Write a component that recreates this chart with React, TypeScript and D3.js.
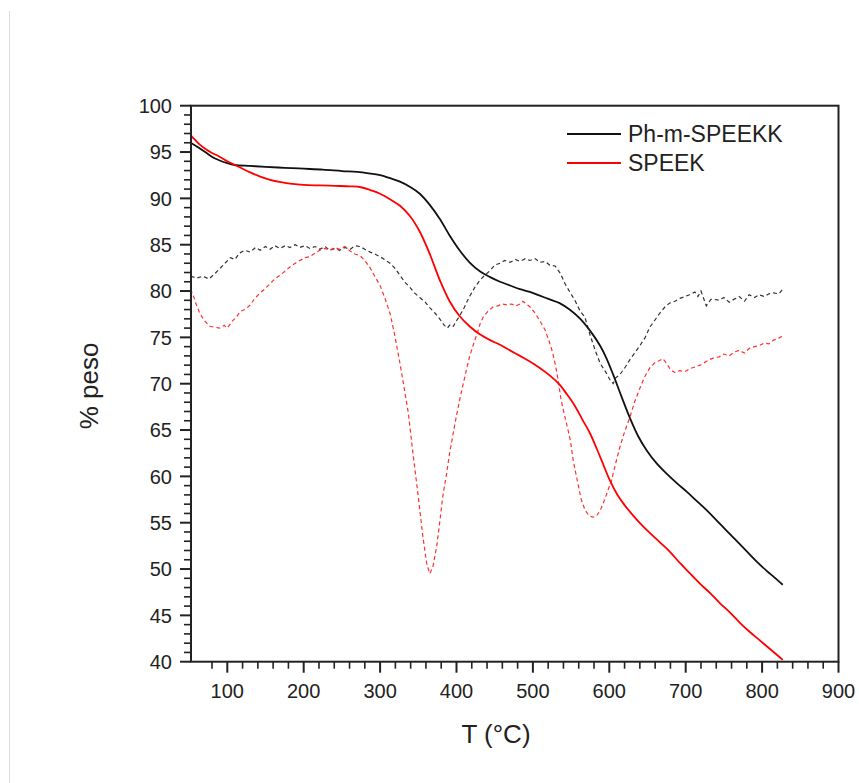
import React from "react";
import * as d3 from "d3";

// TGA curves (T °C, weight %)
const phmT = [52, 60, 71, 84, 100, 110, 130, 150, 175, 200, 225, 250, 270, 285, 300, 312, 326, 340, 352, 365, 378, 391, 404, 417, 431, 444, 457, 470, 483, 496, 509, 522, 535, 548, 562, 575, 588, 596, 605, 616, 627, 638, 649, 662, 675, 688, 702, 715, 728, 741, 754, 767, 780, 793, 806, 816, 827];
const phmW = [96.0, 95.6, 95.0, 94.3, 93.8, 93.6, 93.5, 93.4, 93.3, 93.2, 93.1, 92.95, 92.85, 92.7, 92.5, 92.2, 91.8, 91.2, 90.5, 89.3, 87.8, 86.0, 84.4, 83.1, 82.1, 81.5, 81.0, 80.6, 80.2, 79.9, 79.5, 79.1, 78.7, 78.0, 77.0, 75.7, 74.1, 72.8, 71.0, 68.6, 66.3, 64.3, 62.8, 61.4, 60.3, 59.3, 58.3, 57.3, 56.3, 55.2, 54.1, 53.0, 51.9, 50.8, 49.8, 49.1, 48.3];

const speekT = [52, 58, 64, 72, 80, 90, 100, 110, 120, 130, 143, 156, 170, 182, 200, 221, 241, 261, 275, 287, 300, 313, 326, 339, 352, 365, 378, 391, 404, 417, 431, 444, 457, 470, 483, 496, 509, 522, 535, 545, 555, 565, 575, 584, 592, 600, 610, 620, 631, 642, 653, 666, 680, 693, 706, 719, 732, 745, 758, 771, 784, 797, 810, 820, 827];
const speekW = [96.8, 96.3, 95.8, 95.3, 94.9, 94.5, 94.0, 93.6, 93.2, 92.8, 92.35, 92.0, 91.75, 91.6, 91.45, 91.4, 91.35, 91.3, 91.2, 90.9, 90.5, 89.9, 89.2, 88.1, 86.4, 84.0, 81.2, 78.9, 77.3, 76.2, 75.3, 74.7, 74.2, 73.6, 73.0, 72.4, 71.7, 70.9, 69.9, 68.8, 67.6, 66.1, 64.6, 62.9, 61.3, 59.7, 58.1, 56.9, 55.8, 54.8, 53.9, 52.9, 51.8, 50.6, 49.5, 48.4, 47.4, 46.3, 45.3, 44.2, 43.2, 42.3, 41.4, 40.7, 40.2];

// DTG curves (scaled onto the same axis)
const phmDtgT = [52, 60, 68, 76, 84, 90, 97, 104, 110, 116, 123, 130, 137, 143, 150, 156, 162, 169, 176, 182, 189, 195, 202, 208, 215, 221, 228, 234, 241, 247, 254, 261, 267, 274, 280, 287, 293, 300, 306, 313, 319, 326, 332, 339, 345, 352, 359, 365, 372, 378, 384, 388, 392, 396, 400, 404, 410, 417, 424, 431, 437, 444, 450, 457, 463, 470, 477, 483, 490, 496, 503, 509, 516, 522, 529, 536, 542, 549, 555, 562, 568, 575, 582, 588, 595, 601, 605, 608, 614, 621, 627, 634, 640, 647, 653, 660, 666, 673, 679, 686, 692, 699, 705, 712, 716, 720, 727, 733, 737, 744, 750, 757, 763, 770, 777, 783, 790, 796, 803, 809, 815, 822, 827];
const phmDtgW = [81.6, 81.4, 81.6, 81.3, 81.9, 82.4, 83.0, 83.6, 83.4, 84.1, 84.4, 84.2, 84.7, 84.4, 84.8, 84.5, 84.9, 84.6, 84.9, 84.7, 85.0, 84.7, 84.9, 84.6, 84.8, 84.5, 84.8, 84.4, 84.6, 84.4, 84.7, 84.5, 84.9, 84.8, 84.5, 84.2, 84.0, 83.7, 83.4, 83.0, 82.5, 81.7, 81.0, 80.4, 79.8, 79.3, 78.8, 78.2, 77.6, 77.0, 76.3, 76.0, 76.4, 76.2, 76.8, 77.3, 78.2, 79.4, 80.4, 81.2, 81.7, 82.2, 82.8, 83.0, 83.3, 83.1, 83.4, 83.2, 83.5, 83.3, 83.5, 83.1, 83.2, 82.8, 82.7, 81.9, 80.8, 79.8, 79.0, 77.8, 77.2, 75.2, 73.5, 72.2, 71.3, 70.4, 70.0, 70.6, 71.0, 71.8, 72.6, 73.4, 74.1, 75.0, 76.1, 76.9, 77.6, 78.3, 78.7, 78.9, 79.2, 79.4, 79.6, 79.9, 79.4, 80.0, 78.4, 79.1, 79.1, 79.0, 79.3, 78.8, 79.1, 79.4, 78.9, 79.6, 79.3, 79.6, 79.4, 79.7, 79.8, 79.7, 80.2];

const speekDtgT = [52, 56, 60, 64, 70, 77, 83, 90, 96, 100, 106, 112, 117, 123, 130, 136, 143, 149, 156, 162, 169, 175, 182, 189, 195, 202, 208, 215, 221, 228, 234, 241, 247, 254, 261, 267, 274, 280, 287, 293, 300, 306, 313, 319, 326, 332, 337, 343, 350, 356, 361, 365, 369, 374, 378, 382, 387, 391, 398, 403, 408, 413, 417, 422, 427, 431, 435, 441, 448, 454, 460, 466, 472, 478, 483, 487, 490, 496, 503, 509, 516, 522, 526, 530, 533, 537, 542, 546, 549, 553, 558, 563, 568, 573, 578, 583, 588, 592, 597, 603, 608, 614, 620, 627, 633, 640, 646, 653, 660, 666, 670, 675, 680, 686, 692, 699, 705, 712, 719, 725, 731, 737, 744, 750, 757, 763, 770, 777, 783, 790, 796, 803, 809, 815, 822, 827];
const speekDtgW = [80.2, 79.4, 78.4, 77.6, 76.8, 76.2, 76.1, 76.0, 76.3, 76.0, 76.7, 77.2, 77.8, 78.0, 78.5, 79.2, 79.8, 80.2, 80.8, 81.3, 81.7, 82.1, 82.6, 83.0, 83.3, 83.6, 83.7, 84.1, 84.4, 84.6, 84.4, 84.7, 84.5, 84.8, 84.3, 84.0, 83.8, 83.3, 82.5, 81.6, 80.6, 79.3, 77.6, 75.3, 72.2, 69.3, 66.8, 62.5, 57.8, 53.5, 50.6, 49.5, 50.2, 52.4, 55.0, 57.8, 60.3, 62.5, 65.7, 67.8, 69.7, 71.5, 72.9, 74.2, 75.4, 76.5, 77.2, 77.8, 78.3, 78.4, 78.6, 78.5, 78.6, 78.4, 78.6, 78.9, 78.7, 78.3, 77.6, 76.8, 75.8, 74.4, 73.3, 71.8, 70.4, 68.2, 66.4, 65.0, 63.9, 61.6, 59.6, 57.6, 56.4, 55.8, 55.6, 55.7, 56.3, 57.1, 58.2, 59.6, 61.3, 63.2, 64.8, 66.4, 68.0, 69.5, 70.7, 71.7, 72.3, 72.5, 72.7, 72.2, 71.5, 71.2, 71.4, 71.3, 71.6, 71.8, 72.0, 72.3, 72.6, 72.8, 72.9, 73.2, 73.0, 73.4, 73.6, 73.3, 73.8, 74.0, 74.1, 74.4, 74.3, 74.7, 74.9, 75.2];

const xMajorTicks = [100, 200, 300, 400, 500, 600, 700, 800, 900];
const yMajorTicks = [40, 45, 50, 55, 60, 65, 70, 75, 80, 85, 90, 95, 100];
const legendLabels = ["Ph-m-SPEEKK", "SPEEK"];

export default function App() {
  const x = d3.scaleLinear().domain([52.5, 900]).range([191, 838.5]);
  const y = d3.scaleLinear().domain([40, 100]).range([661.7, 105.7]);

  const smooth = d3.line<[number, number]>().x((d) => x(d[0])).y((d) => y(d[1])).curve(d3.curveCatmullRom.alpha(0.5));
  const raw = d3.line<[number, number]>().x((d) => x(d[0])).y((d) => y(d[1]));
  const zip = (a: number[], b: number[]) => a.map((v, i) => [v, b[i]] as [number, number]);

  const xMinor = d3.range(80, 900, 20).filter((v) => v % 100 !== 0);
  const yMinor = d3.range(41, 100, 1).filter((v) => v % 5 !== 0);
  const ax = "#222";
  const font = "Liberation Sans, Arial, sans-serif";

  return (
    <svg width={859} height={783} style={{ position: "absolute", left: 0, top: 0, background: "#fff" }}>
      <line x1={9.5} x2={9.5} y1={11} y2={783} stroke="#dcdcdc" strokeWidth={1} />

      {/* curves */}
      <path d={raw(zip(phmDtgT, phmDtgW)) || ""} fill="none" stroke="#333" strokeWidth={1.2} strokeDasharray="4,3" />
      <path d={raw(zip(speekDtgT, speekDtgW)) || ""} fill="none" stroke="#ff3030" strokeWidth={1.2} strokeDasharray="4,3" />
      <path d={smooth(zip(phmT, phmW)) || ""} fill="none" stroke="#111" strokeWidth={1.8} />
      <path d={smooth(zip(speekT, speekW)) || ""} fill="none" stroke="#ff0000" strokeWidth={1.8} />

      {/* frame */}
      <rect x={x(52.5)} y={y(100)} width={x(900) - x(52.5)} height={y(40) - y(100)} fill="none" stroke={ax} strokeWidth={2} />

      {/* y ticks */}
      {yMajorTicks.map((v) => (
        <g key={"ym" + v}>
          <line x1={x(52.5) - 11} x2={x(52.5)} y1={y(v)} y2={y(v)} stroke={ax} strokeWidth={2} />
          <text x={172} y={y(v)} dy="0.36em" textAnchor="end" fontSize={20} fontFamily={font} fill={ax}>{v}</text>
        </g>
      ))}
      {yMinor.map((v) => (
        <line key={"yn" + v} x1={x(52.5) - 7} x2={x(52.5)} y1={y(v)} y2={y(v)} stroke={ax} strokeWidth={1.6} />
      ))}

      {/* x ticks */}
      {xMajorTicks.map((v) => (
        <g key={"xm" + v}>
          <line x1={x(v)} x2={x(v)} y1={y(40)} y2={y(40) + 11} stroke={ax} strokeWidth={2} />
          <text x={x(v)} y={697.5} textAnchor="middle" fontSize={20} fontFamily={font} fill={ax}>{v}</text>
        </g>
      ))}
      {xMinor.map((v) => (
        <line key={"xn" + v} x1={x(v)} x2={x(v)} y1={y(40)} y2={y(40) + 7} stroke={ax} strokeWidth={1.6} />
      ))}

      {/* axis titles */}
      <text x={496} y={743} textAnchor="middle" fontSize={26} fontFamily={font} fill={ax}>T (°C)</text>
      <text transform="translate(98,386) rotate(-90)" textAnchor="middle" fontSize={26} fontFamily={font} fill={ax}>% peso</text>

      {/* legend */}
      <line x1={567} x2={621} y1={134} y2={134} stroke="#111" strokeWidth={1.8} />
      <text x={628} y={141.7} fontSize={23} fontFamily={font} fill={ax}>{legendLabels[0]}</text>
      <line x1={567} x2={621} y1={163} y2={163} stroke="#ff0000" strokeWidth={1.8} />
      <text x={628} y={171} fontSize={23} fontFamily={font} fill={ax}>{legendLabels[1]}</text>
    </svg>
  );
}
